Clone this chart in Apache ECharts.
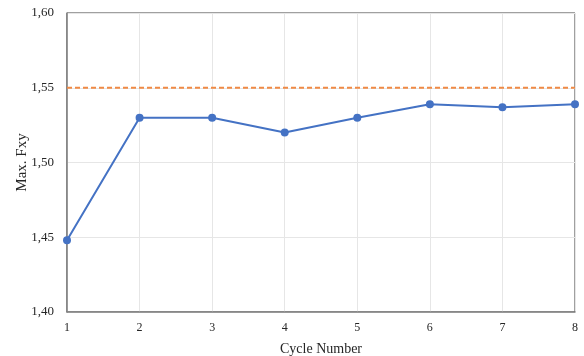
<!DOCTYPE html>
<html><head><meta charset="utf-8">
<script src="https://cdn.jsdelivr.net/npm/echarts@6/dist/echarts.min.js"></script>
<style>html,body{margin:0;padding:0;background:#fff}#c{width:584px;height:356px}</style>
</head><body><div id="c"></div>
<script>
const categories = ['1','2','3','4','5','6','7','8'];
const maxFxy = [1.448, 1.530, 1.530, 1.520, 1.530, 1.539, 1.537, 1.539];
const limit = [1.55, 1.55, 1.55, 1.55, 1.55, 1.55, 1.55, 1.55];
const yMin = 1.40, yMax = 1.60, yStep = 0.05;
const font = 'Liberation Serif';
const chart = echarts.init(document.getElementById('c'));
chart.setOption({
  animation: false,
  grid: {left: 67, top: 13, width: 508, height: 299, show: true, borderColor: '#404040', borderWidth: 1,
         backgroundColor: 'transparent', containLabel: false, outerBoundsMode: 'none'},
  xAxis: {
    type: 'category', data: categories, boundaryGap: false,
    name: 'Cycle Number', nameLocation: 'middle', nameGap: 30,
    nameTextStyle: {fontFamily: font, fontSize: 14, color: '#262626'},
    axisLine: {lineStyle: {color: '#7f7f7f', width: 1.5}},
    axisTick: {show: false},
    axisLabel: {fontFamily: font, fontSize: 12, color: '#262626', margin: 10},
    splitLine: {show: true, lineStyle: {color: '#e6e6e6', width: 1}}
  },
  yAxis: {
    type: 'value', min: yMin, max: yMax, interval: yStep,
    name: 'Max. Fxy', nameLocation: 'middle', nameGap: 37, nameRotate: 90, nameMoveOverlap: false,
    nameTextStyle: {fontFamily: font, fontSize: 15, color: '#262626'},
    axisLine: {show: true, lineStyle: {color: '#7f7f7f', width: 1.5}},
    axisTick: {show: false},
    axisLabel: {fontFamily: font, fontSize: 13, color: '#262626', margin: 13,
      formatter: v => v.toFixed(2).replace('.', ',')},
    splitLine: {show: true, lineStyle: {color: '#e6e6e6', width: 1}}
  },
  series: [
    {type: 'line', data: limit, symbol: 'none', silent: true,
     lineStyle: {color: '#F08A45', width: 2, type: [5, 3]}, z: 3},
    {type: 'line', data: maxFxy, symbol: 'circle', symbolSize: 8,
     itemStyle: {color: '#4472C4'},
     lineStyle: {color: '#4472C4', width: 2}, z: 4}
  ]
});
</script></body></html>
